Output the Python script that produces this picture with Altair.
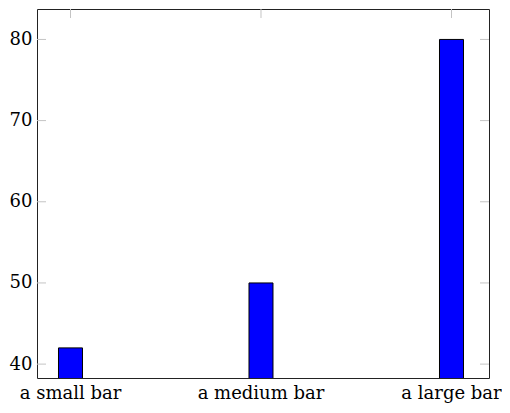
import altair as alt
import pandas as pd

categories = ["a small bar", "a medium bar", "a large bar"]
values = [42, 50, 80]
y_ticks = [40, 50, 60, 70, 80]

bars_df = pd.DataFrame({"label": categories, "value": values})
ticks_df = pd.DataFrame({"tick": y_ticks})

W, H = 452, 369
TL = 9
FONT = "DejaVu Serif"
FS = 18
TICK_COLOR = "#c4c4c4"

xscale = alt.Scale(domain=categories, paddingInner=0.87402, paddingOuter=0.12336, align=0.4574)
yscale = alt.Scale(domain=[38.29, 83.75], zero=False, nice=False)

x_axis = alt.Axis(title=None, labelAngle=0, ticks=False, domain=False, grid=False,
                  labelFont=FONT, labelFontSize=FS, labelColor="black", labelPadding=6)
y_axis = alt.Axis(title=None, values=y_ticks, ticks=False, domain=False, grid=False,
                  labelFont=FONT, labelFontSize=FS, labelColor="black", labelPadding=5)

bars = alt.Chart(bars_df).mark_bar(
    color="#0000ff", stroke="black", strokeWidth=1, clip=True
).encode(
    x=alt.X("label:N", scale=xscale, sort=categories, axis=x_axis),
    y=alt.Y("value:Q", scale=yscale, axis=y_axis),
)

left_ticks = alt.Chart(ticks_df).mark_rule(color=TICK_COLOR, strokeWidth=1).encode(
    y=alt.Y("tick:Q", scale=yscale, axis=y_axis),
    x=alt.value(0), x2=alt.value(TL),
)
right_ticks = alt.Chart(ticks_df).mark_rule(color=TICK_COLOR, strokeWidth=1).encode(
    y=alt.Y("tick:Q", scale=yscale, axis=y_axis),
    x=alt.value(W - TL), x2=alt.value(W),
)
top_ticks = alt.Chart(bars_df).mark_rule(color=TICK_COLOR, strokeWidth=1).encode(
    x=alt.X("label:N", scale=xscale, sort=categories, axis=x_axis),
    y=alt.value(0), y2=alt.value(TL),
)

chart = alt.layer(left_ticks, right_ticks, top_ticks, bars).properties(
    width=W, height=H,
    padding={"left": 29, "top": 1, "right": 13, "bottom": 25},
    autosize=alt.AutoSizeParams(type="none"),
).configure_view(stroke="#222222", strokeWidth=1)

chart.save("out.html", embed_options={"renderer": "svg", "actions": False})
